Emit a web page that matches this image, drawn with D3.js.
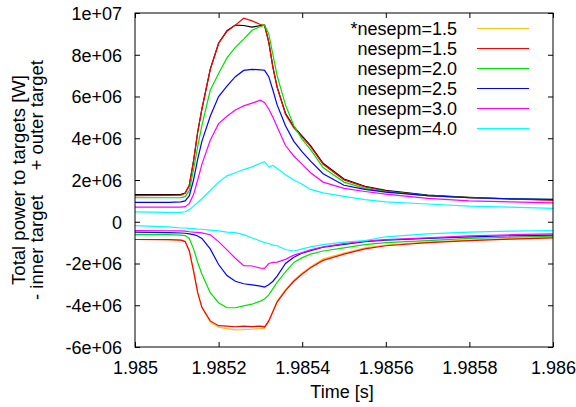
<!DOCTYPE html>
<html>
<head>
<meta charset="utf-8">
<script src="https://cdn.jsdelivr.net/npm/d3@7"></script>
<style>
  body { margin: 0; background: #fff; }
  svg text { font-family: "Liberation Sans", Arial, sans-serif; fill: #000; }
</style>
</head>
<body>
<svg id="chart" width="576" height="407"></svg>
<script>
// time grid [s]
const time = [1.98500, 1.98508, 1.98511, 1.98512, 1.98513, 1.98514, 1.98515, 1.98516, 1.98518, 1.98520,
  1.98522, 1.98524, 1.98526, 1.98528, 1.98530, 1.98531, 1.98532, 1.98533, 1.98534, 1.98536,
  1.98538, 1.98540, 1.98542, 1.98545, 1.98550, 1.98555, 1.98560, 1.98570, 1.98580, 1.98590, 1.98600];

// power in units of 1e6 W; positive = outer target, negative = inner target
const outerBlack = [1.30, 1.30, 1.31, 1.38, 1.75, 2.90, 4.30, 5.40, 7.30, 8.55, 9.15, 9.42, 9.40, 9.32, 9.40, 9.42,
  8.60, 7.40, 6.45, 5.20, 4.55, 4.10, 3.65, 2.80, 2.05, 1.70, 1.50, 1.28, 1.17, 1.10, 1.05];
const outerRed = [1.25, 1.26, 1.27, 1.36, 1.75, 2.90, 4.30, 5.40, 7.30, 8.55, 9.12, 9.42, 9.75, 9.62, 9.45, 9.40,
  8.60, 7.40, 6.45, 5.15, 4.50, 4.05, 3.60, 2.75, 2.00, 1.67, 1.47, 1.25, 1.15, 1.08, 1.03];
const outerGreen = [1.15, 1.15, 1.16, 1.20, 1.50, 2.50, 3.60, 4.60, 6.30, 7.10, 7.85, 8.35, 8.75, 9.17, 9.35, 9.42,
  9.00, 8.00, 7.00, 5.60, 4.60, 3.95, 3.45, 2.60, 1.90, 1.60, 1.44, 1.25, 1.15, 1.10, 1.07];
const outerBlue = [0.93, 0.93, 0.95, 1.00, 1.25, 2.00, 3.00, 3.85, 5.05, 6.00, 6.50, 6.95, 7.25, 7.30, 7.28, 7.25,
  6.95, 6.30, 5.60, 4.60, 3.85, 3.35, 2.90, 2.30, 1.75, 1.55, 1.42, 1.25, 1.15, 1.10, 1.07];
const outerMagenta = [0.70, 0.70, 0.70, 0.72, 0.88, 1.30, 2.00, 2.75, 3.90, 4.70, 5.05, 5.35, 5.55, 5.68, 5.82, 5.70,
  5.40, 5.00, 4.55, 3.65, 3.15, 2.75, 2.35, 1.90, 1.60, 1.45, 1.32, 1.12, 1.00, 0.95, 0.90];
const outerCyan = [0.47, 0.45, 0.45, 0.48, 0.58, 0.75, 0.92, 1.10, 1.50, 1.90, 2.20, 2.35, 2.50, 2.63, 2.80, 2.88,
  2.63, 2.70, 2.55, 2.25, 2.00, 1.80, 1.55, 1.38, 1.22, 1.06, 0.95, 0.85, 0.75, 0.70, 0.64];

const innerOrange = [-0.85, -0.86, -0.88, -0.95, -1.40, -2.35, -3.40, -4.10, -4.80, -5.05, -5.12, -5.18, -5.17, -5.15, -5.12, -5.10,
  -4.75, -4.28, -3.80, -3.25, -2.80, -2.45, -2.15, -1.78, -1.50, -1.25, -1.12, -0.98, -0.88, -0.81, -0.75];
const innerRed = [-0.85, -0.86, -0.88, -0.95, -1.40, -2.35, -3.40, -4.10, -4.75, -4.98, -5.00, -5.03, -5.00, -5.02, -5.00, -5.04,
  -4.75, -4.30, -3.85, -3.30, -2.85, -2.50, -2.20, -1.85, -1.55, -1.30, -1.15, -1.00, -0.90, -0.83, -0.77];
const innerGreen = [-0.62, -0.62, -0.64, -0.66, -0.80, -1.30, -1.95, -2.50, -3.40, -3.88, -4.12, -4.12, -4.03, -3.95, -3.80, -3.70,
  -3.50, -3.20, -2.90, -2.40, -1.95, -1.72, -1.55, -1.40, -1.25, -1.10, -1.00, -0.90, -0.80, -0.74, -0.69];
const innerBlue = [-0.50, -0.52, -0.54, -0.55, -0.58, -0.62, -0.68, -0.80, -1.30, -2.05, -2.58, -2.85, -2.97, -3.02, -3.08, -3.13,
  -3.02, -2.85, -2.60, -2.00, -1.70, -1.50, -1.38, -1.22, -1.08, -0.95, -0.88, -0.80, -0.72, -0.67, -0.64];
const innerMagenta = [-0.42, -0.43, -0.44, -0.45, -0.48, -0.50, -0.51, -0.53, -0.62, -0.95, -1.35, -1.75, -2.10, -2.12, -2.22, -2.23,
  -2.00, -1.95, -1.93, -1.80, -1.60, -1.48, -1.35, -1.20, -1.05, -0.93, -0.86, -0.77, -0.68, -0.62, -0.58];
const innerCyan = [-0.19, -0.25, -0.30, -0.30, -0.32, -0.33, -0.35, -0.36, -0.40, -0.44, -0.50, -0.52, -0.62, -0.78, -0.92, -1.00,
  -1.04, -1.12, -1.15, -1.33, -1.40, -1.30, -1.20, -1.10, -0.98, -0.90, -0.72, -0.58, -0.50, -0.45, -0.42];

const legendLabels = ["*nesepm=1.5", "nesepm=1.5", "nesepm=2.0", "nesepm=2.5", "nesepm=3.0", "nesepm=4.0"];
const legendColors = ["#ffc020", "#ff0000", "#00e000", "#0000ff", "#ff00ff", "#00ffff"];

const xTicks = [1.985, 1.9852, 1.9854, 1.9856, 1.9858, 1.986];
const xTickLabels = ["1.985", "1.9852", "1.9854", "1.9856", "1.9858", "1.986"];
const yTicks = [-6e6, -4e6, -2e6, 0, 2e6, 4e6, 6e6, 8e6, 1e7];
const yTickLabels = ["-6e+06", "-4e+06", "-2e+06", "0", "2e+06", "4e+06", "6e+06", "8e+06", "1e+07"];

const plotLeft = 135, plotRight = 553, plotTop = 13, plotBottom = 347;

const svg = d3.select("#chart");

const x = d3.scaleLinear().domain([1.985, 1.986]).range([plotLeft, plotRight]);
const y = d3.scaleLinear().domain([-6e6, 1e7]).range([plotBottom, plotTop]);

// axes with inward ticks on all four sides
svg.append("g")
    .attr("transform", `translate(0, ${plotBottom})`)
    .call(d3.axisBottom(x).tickValues(xTicks).tickSize(-5).tickPadding(10)
        .tickFormat((d, i) => xTickLabels[i]))
    .call(g => g.select(".domain").remove())
    .call(g => g.selectAll("text").style("font-size", "18px").attr("dy", "0.95em"));

svg.append("g")
    .attr("transform", `translate(0, ${plotTop})`)
    .call(d3.axisTop(x).tickValues(xTicks).tickSize(-5).tickFormat(""))
    .call(g => g.select(".domain").remove());

svg.append("g")
    .attr("transform", `translate(${plotLeft}, 0)`)
    .call(d3.axisLeft(y).tickValues(yTicks).tickSize(-5).tickPadding(13)
        .tickFormat((d, i) => yTickLabels[i]))
    .call(g => g.select(".domain").remove())
    .call(g => g.selectAll("text").style("font-size", "18px").attr("dy", "0.36em"));

svg.append("g")
    .attr("transform", `translate(${plotRight}, 0)`)
    .call(d3.axisRight(y).tickValues(yTicks).tickSize(-5).tickFormat(""))
    .call(g => g.select(".domain").remove());

svg.selectAll(".tick line").attr("stroke", "#000");

// series
const series = [
    { values: outerBlack, color: "#000000" },
    { values: innerOrange, color: legendColors[0] },
    { values: outerRed, color: legendColors[1] },
    { values: innerRed, color: legendColors[1] },
    { values: outerGreen, color: legendColors[2] },
    { values: innerGreen, color: legendColors[2] },
    { values: outerBlue, color: legendColors[3] },
    { values: innerBlue, color: legendColors[3] },
    { values: outerMagenta, color: legendColors[4] },
    { values: innerMagenta, color: legendColors[4] },
    { values: outerCyan, color: legendColors[5] },
    { values: innerCyan, color: legendColors[5] }
];

const line = d3.line()
    .x((d, i) => x(time[i]))
    .y(d => y(d * 1e6));

svg.selectAll(".series")
    .data(series)
    .enter()
    .append("path")
    .attr("class", "series")
    .attr("fill", "none")
    .attr("stroke", d => d.color)
    .attr("stroke-width", 1.2)
    .attr("d", d => line(d.values));

// frame
svg.append("rect")
    .attr("x", plotLeft)
    .attr("y", plotTop)
    .attr("width", plotRight - plotLeft)
    .attr("height", plotBottom - plotTop)
    .attr("fill", "none")
    .attr("stroke", "#000")
    .attr("stroke-width", 1);

// legend
const legend = svg.append("g");
legendLabels.forEach((label, i) => {
    const ly = 28.5 + i * 20;
    legend.append("text")
        .attr("x", 457)
        .attr("y", ly)
        .attr("dy", "0.36em")
        .attr("text-anchor", "end")
        .style("font-size", "18px")
        .text(label);
    legend.append("line")
        .attr("x1", 477)
        .attr("x2", 529)
        .attr("y1", ly)
        .attr("y2", ly)
        .attr("stroke", legendColors[i])
        .attr("stroke-width", 1.2);
});

// axis titles
svg.append("text")
    .attr("x", 342)
    .attr("y", 398)
    .attr("text-anchor", "middle")
    .style("font-size", "18px")
    .text("Time [s]");

svg.append("text")
    .attr("transform", "translate(25, 180) rotate(-90)")
    .attr("text-anchor", "middle")
    .style("font-size", "18.5px")
    .text("Total power to targets [W]");

svg.append("text")
    .attr("transform", "translate(43, 300) rotate(-90)")
    .attr("text-anchor", "start")
    .style("font-size", "18.5px")
    .text("- inner target");

svg.append("text")
    .attr("transform", "translate(43, 60) rotate(-90)")
    .attr("text-anchor", "end")
    .style("font-size", "18.5px")
    .text("+ outer target");
</script>
</body>
</html>
